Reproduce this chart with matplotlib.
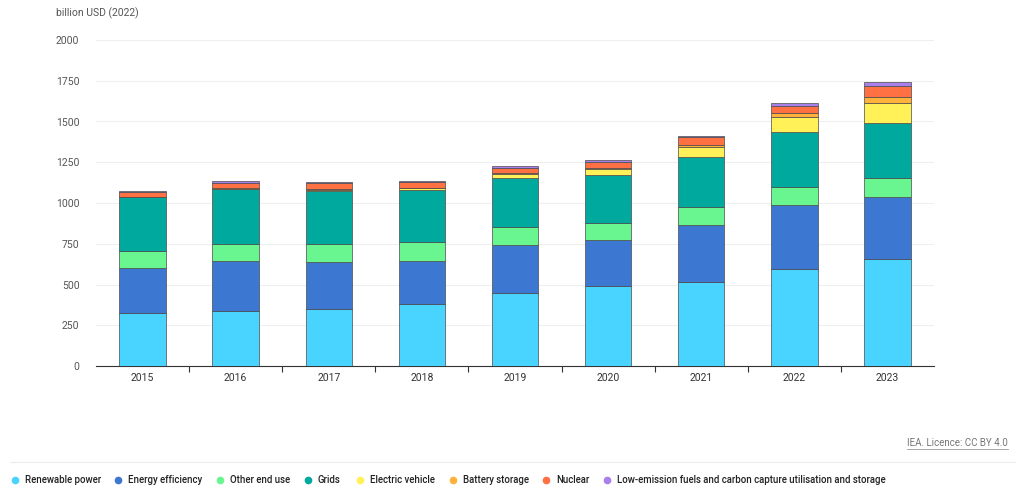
import numpy as np
import matplotlib.pyplot as plt

plt.rcParams["font.family"] = ["Roboto", "DejaVu Sans"]

years = ["2015", "2016", "2017", "2018", "2019", "2020", "2021", "2022", "2023"]

renewable = [327, 339, 347, 378, 449, 493, 518, 594, 657]
efficiency = [272, 305, 289, 264, 291, 278, 350, 392, 378]
other_end_use = [108, 106, 114, 116, 114, 104, 109, 115, 120]
grids = [327, 335, 321, 319, 301, 298, 303, 332, 333]
ev = [1, 2, 6, 12, 20, 33, 63, 94, 127]
battery = [3, 4, 6, 6, 6, 6, 13, 24, 37]
nuclear = [31, 29, 39, 35, 35, 41, 46, 47, 63]
low_emission = [5, 14, 6, 8, 10, 8, 8, 17, 25]

series = [
    ("Renewable power", renewable, "#48D4FE"),
    ("Energy efficiency", efficiency, "#3C78D2"),
    ("Other end use", other_end_use, "#69F590"),
    ("Grids", grids, "#00A99D"),
    ("Electric vehicle", ev, "#FFF157"),
    ("Battery storage", battery, "#FFB23B"),
    ("Nuclear", nuclear, "#FF7043"),
    ("Low-emission fuels and carbon capture utilisation and storage", low_emission, "#A97FEA"),
]

fig = plt.figure(figsize=(10.24, 4.98), dpi=100)
ax = fig.add_axes([96 / 1024, 1 - 366 / 498, (934 - 96) / 1024, (366 - 40) / 498])

x = np.arange(len(years))
bottom = np.zeros(len(years))
for name, vals, col in series:
    ax.bar(x, vals, width=0.5, bottom=bottom, color=col, edgecolor="#4a4a4a",
           linewidth=0.5, zorder=3)
    bottom += np.array(vals)

ax.set_xlim(-0.5, len(years) - 0.5)
ax.set_ylim(0, 2000)
ax.set_yticks(np.arange(0, 2001, 250))
ax.yaxis.grid(True, color="#efefef", linewidth=0.8, zorder=0)
ax.tick_params(axis="y", length=0, labelsize=7.5, labelcolor="#555555", pad=12)
ax.set_xticks(x)
ax.set_xticklabels(years)
ax.tick_params(axis="x", length=0, labelsize=7.5, labelcolor="#333333", pad=5)
ax.set_xticks(np.arange(0.5, len(years) - 1, 1), minor=True)
ax.tick_params(axis="x", which="minor", length=4, color="#333333", width=0.8)
for s in ["left", "right", "top"]:
    ax.spines[s].set_visible(False)
ax.spines["bottom"].set_color("#333333")
ax.spines["bottom"].set_linewidth(0.8)

fig.text(56 / 1024, 1 - 13 / 498, "billion USD (2022)", fontsize=7.5, color="#555555",
         va="center", ha="left")

lic = fig.text(1008 / 1024, 1 - 443 / 498, "IEA. Licence: CC BY 4.0", fontsize=7,
               color="#777777", ha="right", va="center")
fig.canvas.draw()
bb = lic.get_window_extent()
fig.add_artist(plt.Line2D([bb.x0 / 1024, bb.x1 / 1024], [(bb.y0 - 1) / 498, (bb.y0 - 1) / 498],
                          color="#999999", linewidth=0.6))
fig.add_artist(plt.Line2D([10 / 1024, 1015 / 1024], [1 - 462 / 498, 1 - 462 / 498],
                          color="#ececec", linewidth=0.8))

marker_x = [15, 118, 220, 308, 360, 453, 546, 607]
for (name, vals, col), mx in zip(series, marker_x):
    fig.add_artist(plt.Line2D([mx / 1024], [1 - 480 / 498], marker="o", markersize=4.5,
                              color=col, linestyle="none"))
    fig.text((mx + 10) / 1024, 1 - 480 / 498, name, fontsize=6.9, color="#222222",
             fontweight="medium", ha="left", va="center")

fig.savefig("out.png", dpi=100)
